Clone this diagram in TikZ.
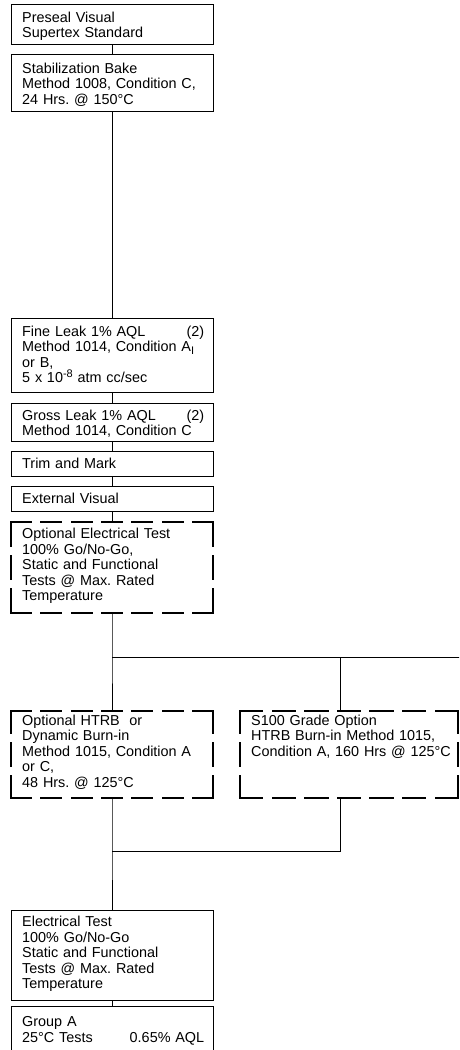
\documentclass[tikz,border=0pt]{standalone}
\usepackage{fontspec}
\setmainfont{Liberation Sans}
\usetikzlibrary{fit,calc}
\tikzset{
  solidbox/.style={draw, line width=1pt, inner sep=0pt},
  framebox/.style={inner sep=0pt},
  txt/.style={anchor=base west, inner sep=0pt, text width=182pt, align=left,
    font=\fontsize{14.4}{15.6}\selectfont\frenchspacing},
  conn/.style={line width=1pt},
  dashline/.style={line width=1.7pt, line cap=rect},
}
\newcommand\pushright{\hskip 0pt plus 1filll\relax}
\newcommand\supx[1]{\raisebox{5.5pt}{\fontsize{11}{11}\selectfont #1}}
\newcommand\subx[1]{\raisebox{-3pt}{\fontsize{11}{11}\selectfont #1}}
\newcommand\dline[4]{%
  \pgfmathsetmacro\dlen{veclen(#3-#1,#4-#2)}%
  \pgfmathsetmacro\dnum{max(1,round((\dlen+10)/31))}%
  \pgfmathsetmacro\don{(\dlen-(\dnum-1)*10)/\dnum}%
  \draw[dashline, dash pattern=on \don pt off 10pt] (#1,#2) -- (#3,#4);}
\newcommand\dbox[4]{%
  \dline{#1}{#2}{#3}{#2}\dline{#3}{#2}{#3}{#4}%
  \dline{#1}{#4}{#3}{#4}\dline{#1}{#2}{#1}{#4}}
\begin{document}
\begin{tikzpicture}[x=1pt,y=-1pt]
\clip (0,0) rectangle (459,1050);
\fill[white] (0,0) rectangle (459,1050);

% solid boxes
\node[solidbox, fit={(11,4) (213,44)}] (pre) {};
\node[txt] (preT) at (22,22) {Preseal Visual\\Supertex Standard};

\node[solidbox, fit={(11,54) (213,111)}] (stab) {};
\node[txt] (stabT) at (22,73) {Stabilization Bake\\Method 1008, Condition C,\\24 Hrs. @ 150°C};

\node[solidbox, fit={(11,318) (213,392)}] (fine) {};
\node[txt] (fineT) at (22,336) {Fine Leak 1\% AQL\pushright(2)\\Method 1014, Condition A\subx{I}\\or B,\\5 x 10\supx{-8} atm cc/sec};

\node[solidbox, fit={(11,403) (213,441)}] (gross) {};
\node[txt] (grossT) at (22,420) {Gross Leak 1\% AQL\pushright(2)\\Method 1014, Condition C};

\node[solidbox, fit={(11,451) (213,476)}] (trim) {};
\node[txt] (trimT) at (22,468.5) {Trim and Mark};

\node[solidbox, fit={(11,486) (213,511)}] (ext) {};
\node[txt] (extT) at (22,503.5) {External Visual};

% dashed boxes
\node[framebox, fit={(11,522) (213,613)}] (optel) {};
\dbox{11}{522}{213}{613}
\node[txt] (optelT) at (22,538.5) {Optional Electrical Test\\100\% Go/No-Go,\\Static and Functional\\Tests @ Max. Rated\\Temperature};

\node[framebox, fit={(11,711) (213,798)}] (htrb) {};
\dbox{11}{711}{213}{798}
\node[txt] (htrbT) at (22,725) {Optional HTRB\ \ or\\Dynamic Burn-in\\Method 1015, Condition A\\or C,\\48 Hrs. @ 125°C};

\node[framebox, fit={(240,711) (458,798)}] (s100) {};
\dbox{240}{711}{458}{798}
\node[txt, text width=205pt] (s100T) at (251,725) {S100 Grade Option\\HTRB Burn-in Method 1015,\\Condition A, 160 Hrs @ 125°C};

\node[solidbox, fit={(11,910) (213,1000)}] (elec) {};
\node[txt] (elecT) at (22,926.5) {Electrical Test\\100\% Go/No-Go\\Static and Functional\\Tests @ Max. Rated\\Temperature};

\node[solidbox, fit={(11,1006) (213,1080)}] (grpa) {};
\node[txt] (grpaT) at (22,1026.5) {Group A\\25°C Tests\pushright 0.65\% AQL};

% connectors
\coordinate (j1) at (112,657);
\coordinate (j2) at (340,657);
\coordinate (jr) at (470,657);
\coordinate (j3) at (112,851);
\coordinate (j4) at (340,851);

\draw[conn] (pre.south) -- (stab.north);
\draw[conn] (stab.south) -- (fine.north);
\draw[conn] (fine.south) -- (gross.north);
\draw[conn] (gross.south) -- (trim.north);
\draw[conn] (trim.south) -- (ext.north);
\draw[conn] (ext.south) -- (optel.north);
\draw[conn] (optel.south) -- (j1) -- (htrb.north);
\draw[conn] (j1) -- (jr);
\draw[conn] (j2) -- (s100.north -| j2);
\draw[conn] (htrb.south) -- (j3) -- (elec.north);
\draw[conn] (s100.south -| j4) -- (j4) -- (j3);
\draw[conn] (elec.south) -- (grpa.north);
\end{tikzpicture}
\end{document}
